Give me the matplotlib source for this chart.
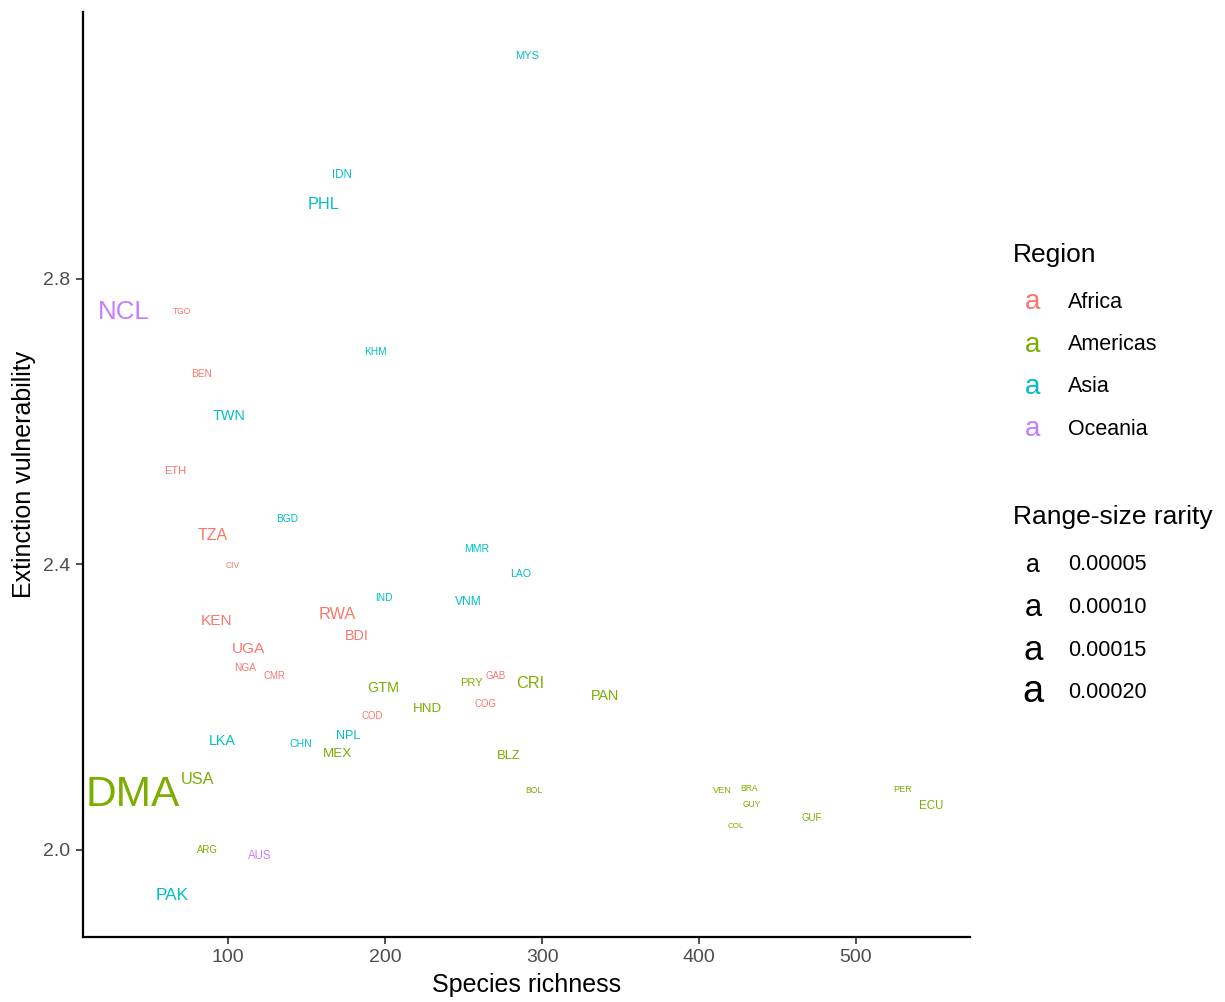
import numpy as np
import matplotlib
matplotlib.use("Agg")
import matplotlib.pyplot as plt

plt.rcParams['font.family'] = ['Liberation Sans', 'DejaVu Sans']

# country codes with their region, species richness, extinction vulnerability
# and range-size rarity
codes = ['MYS', 'IDN', 'PHL', 'NCL', 'TGO', 'KHM', 'BEN', 'TWN', 'ETH', 'BGD',
         'TZA', 'MMR', 'CIV', 'LAO', 'IND', 'VNM', 'RWA', 'KEN', 'BDI', 'UGA',
         'NGA', 'GAB', 'CMR', 'PRY', 'CRI', 'GTM', 'PAN', 'COG', 'HND', 'COD',
         'NPL', 'LKA', 'CHN', 'MEX', 'BLZ', 'USA', 'DMA', 'BOL', 'VEN', 'BRA',
         'GUY', 'COL', 'GUF', 'PER', 'ECU', 'ARG', 'AUS', 'PAK']
regions = ['Asia', 'Asia', 'Asia', 'Oceania', 'Africa', 'Asia', 'Africa', 'Asia', 'Africa', 'Asia',
           'Africa', 'Asia', 'Africa', 'Asia', 'Asia', 'Asia', 'Africa', 'Africa', 'Africa', 'Africa',
           'Africa', 'Africa', 'Africa', 'Americas', 'Americas', 'Americas', 'Americas', 'Africa', 'Americas', 'Africa',
           'Asia', 'Asia', 'Asia', 'Americas', 'Americas', 'Americas', 'Americas', 'Americas', 'Americas', 'Americas',
           'Americas', 'Americas', 'Americas', 'Americas', 'Americas', 'Americas', 'Oceania', 'Asia']
richness = [290.4, 172.6, 160.5, 33.8, 70.7, 193.6, 83.4, 100.6, 66.2, 137.6,
            90.4, 258.6, 103.2, 286.6, 199.4, 252.9, 169.4, 92.4, 182.2, 112.7,
            110.8, 270.7, 129.3, 254.8, 292.4, 198.7, 340.1, 263.7, 226.8, 191.7,
            176.4, 96.2, 146.5, 169.4, 279.0, 80.3, 38.9, 294.9, 414.6, 431.8,
            433.8, 423.6, 472.0, 530.0, 547.8, 86.6, 120.4, 64.3]
vulnerability = [3.113, 2.946, 2.905, 2.754, 2.754, 2.697, 2.667, 2.608, 2.531, 2.463,
                 2.440, 2.421, 2.398, 2.386, 2.353, 2.348, 2.330, 2.321, 2.300, 2.281,
                 2.255, 2.243, 2.243, 2.234, 2.233, 2.227, 2.215, 2.205, 2.198, 2.188,
                 2.160, 2.153, 2.148, 2.135, 2.132, 2.098, 2.077, 2.083, 2.083, 2.086,
                 2.063, 2.033, 2.045, 2.084, 2.061, 2.000, 1.991, 1.936]
rarity = [3.3e-6, 3.8e-6, 11.9e-6, 56e-6, 1.4e-6, 2.4e-6, 2.4e-6, 7.9e-6, 3.3e-6, 2.4e-6,
          10.9e-6, 2.8e-6, 1.4e-6, 2.8e-6, 2.4e-6, 4.3e-6, 11.9e-6, 9.9e-6, 7.9e-6, 9.9e-6,
          2.4e-6, 2.1e-6, 2.1e-6, 3.3e-6, 11.9e-6, 7.9e-6, 7.9e-6, 2.1e-6, 6.2e-6, 2.1e-6,
          5.0e-6, 7.9e-6, 2.8e-6, 6.2e-6, 5.6e-6, 11.9e-6, 290e-6, 1.4e-6, 1.7e-6, 1.4e-6,
          1.4e-6, 1.2e-6, 2.1e-6, 1.7e-6, 3.8e-6, 2.1e-6, 3.8e-6, 14.5e-6]

region_names = ['Africa', 'Americas', 'Asia', 'Oceania']
region_colors = ['#F8766D', '#7CAE00', '#00BFC4', '#C77CFF']
rarity_breaks = [0.00005, 0.00010, 0.00015, 0.00020]
rarity_labels = ['0.00005', '0.00010', '0.00015', '0.00020']


def text_size(r):
    # font size (pt) for a given range-size rarity
    return 352 * r ** 0.3


color_of = dict(zip(region_names, region_colors))

fig = plt.figure(figsize=(12.25, 10.02), dpi=100)
ax = fig.add_axes([0.0678, 0.0649, 0.7240, 0.9231])

for c, reg, x, y, r in zip(codes, regions, richness, vulnerability, rarity):
    ax.text(x, y, c, color=color_of[reg], fontsize=text_size(r),
            ha='center', va='center')

ax.set_xlim(7.6, 572.6)
ax.set_ylim(1.878, 3.174)
ax.set_xticks([100, 200, 300, 400, 500])
ax.set_yticks([2.0, 2.4, 2.8])
ax.set_yticklabels(['2.0', '2.4', '2.8'])

for s in ['top', 'right']:
    ax.spines[s].set_visible(False)
for s in ['left', 'bottom']:
    ax.spines[s].set_linewidth(1.6)
    ax.spines[s].set_color('black')
ax.tick_params(axis='both', length=5, width=1.2, color='#333333',
               labelcolor='#4D4D4D', labelsize=14, pad=4)

ax.set_xlabel('Species richness', fontsize=18, labelpad=5)
ax.set_ylabel('Extinction vulnerability', fontsize=18, labelpad=5)

# legends drawn by hand to the right of the panel
W, H = 1225, 1002


def fx(px):
    return px / W


def fy(py):
    return 1 - py / H


fig.text(fx(1013), fy(255), 'Region', fontsize=19, va='center', ha='left')
for i, (name, col) in enumerate(zip(region_names, region_colors)):
    yy = 302 + i * 42.5
    fig.text(fx(1033), fy(yy), 'a', color=col, fontsize=20, ha='center', va='center')
    fig.text(fx(1068), fy(yy), name, fontsize=15.5, ha='left', va='center')

fig.text(fx(1013), fy(517), 'Range-size rarity', fontsize=19, va='center', ha='left')
for i, (b, lab) in enumerate(zip(rarity_breaks, rarity_labels)):
    yy = 565 + i * 42.5
    fig.text(fx(1033), fy(yy), 'a', color='black', fontsize=text_size(b),
             ha='center', va='center')
    fig.text(fx(1068), fy(yy), lab, fontsize=15.5, ha='left', va='center')

fig.savefig('out.png', dpi=100)
